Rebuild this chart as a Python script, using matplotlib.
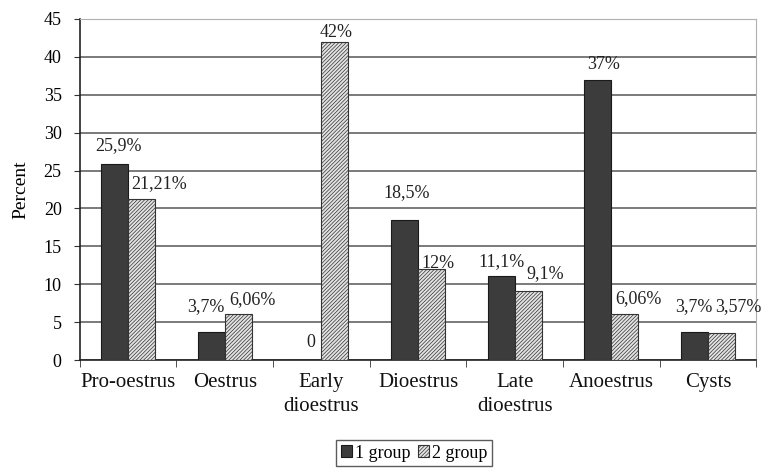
import matplotlib
matplotlib.use('Agg')
import matplotlib.pyplot as plt
import numpy as np

plt.rcParams['font.family'] = ['Liberation Serif', 'DejaVu Serif']
plt.rcParams['hatch.color'] = '#a8a8a8'
plt.rcParams['hatch.linewidth'] = 0.5

categories = ['Pro-oestrus', 'Oestrus', 'Early\ndioestrus', 'Dioestrus',
              'Late\ndioestrus', 'Anoestrus', 'Cysts']
group1 = [25.9, 3.7, 0, 18.5, 11.1, 37, 3.7]
group2 = [21.21, 6.06, 42, 12, 9.1, 6.06, 3.57]
labels1 = ['25,9%', '3,7%', '0', '18,5%', '11,1%', '37%', '3,7%']
labels2 = ['21,21%', '6,06%', '42%', '12%', '9,1%', '6,06%', '3,57%']

# label offsets in pixels (text centre relative to bar top centre)
off1 = [(4, 18), (-5, 25), (3, 18), (2, 27), (0, 14), (6, 15), (-1, 25)]
off2 = [(18, 16), (14, 15), (1, 9), (6, 6), (17, 18), (14, 16), (17, 26)]

fig = plt.figure(figsize=(7.67, 4.72), dpi=100)
ax = fig.add_axes([0.104, 0.237, 0.882, 0.723])

x = np.arange(len(categories))
w = 0.28
b1 = ax.bar(x - w / 2, group1, w, color='#3c3c3c', edgecolor='#1a1a1a',
            linewidth=0.8, label='1 group', zorder=3)
b2 = ax.bar(x + w / 2, group2, w, color='#e2e2e2', edgecolor='#333333',
            linewidth=0.8, hatch='/////////', label='2 group', zorder=3)

for bars, labs, offs in [(b1, labels1, off1), (b2, labels2, off2)]:
    for bar, lab, (dx, dy) in zip(bars, labs, offs):
        ax.annotate(lab, (bar.get_x() + bar.get_width() / 2, bar.get_height()),
                    xytext=(dx, dy), textcoords='offset pixels',
                    ha='center', va='center', fontsize=13, color='#222222',
                    annotation_clip=False, zorder=5)

ax.set_xlim(-0.5, len(categories) - 0.5)
ax.set_ylim(0, 45)
ax.set_yticks(np.arange(0, 46, 5))
ax.yaxis.grid(True, color='#707070', linewidth=1.3, zorder=0)
ax.set_axisbelow(True)

ax.set_xticks(x)
ax.set_xticklabels(categories, fontsize=15, color='#111111', linespacing=1.35)
ax.set_xticks(np.arange(-0.5, len(categories), 1), minor=True)
ax.tick_params(axis='x', which='major', length=0, pad=9)
ax.tick_params(axis='x', which='minor', length=5, direction='out', color='#333333')
ax.tick_params(axis='y', length=4, direction='out', labelsize=13, pad=9, color='#333333')

ax.spines['left'].set_color('#222222')
ax.spines['bottom'].set_color('#222222')
ax.spines['left'].set_linewidth(1.2)
ax.spines['bottom'].set_linewidth(1.2)
ax.spines['top'].set_color('#b0b0b0')
ax.spines['right'].set_color('#b0b0b0')

ax.set_ylabel('Percent', fontsize=14, labelpad=10)

fig.legend(handles=[b1, b2], loc='lower center', bbox_to_anchor=(0.54, 0.005),
           ncol=2, fontsize=13, frameon=True, fancybox=False, edgecolor='#333333',
           handlelength=0.6, handleheight=0.6, handletextpad=0.2,
           columnspacing=0.4, borderpad=0.25, borderaxespad=0.2)

fig.savefig('out.png', dpi=100)
